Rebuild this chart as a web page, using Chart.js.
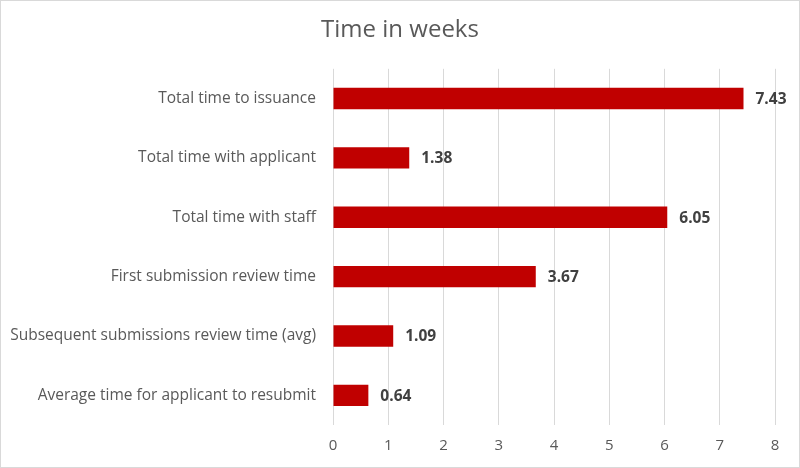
<!DOCTYPE html>
<html lang="en">
<head>
<meta charset="UTF-8">
<title>Time in weeks</title>
<script src="https://cdn.jsdelivr.net/npm/chart.js@4"></script>
<style>
    html, body { margin: 0; padding: 0; background: #fff; }
    .wrap { position: relative; width: 800px; height: 468px; }
</style>
</head>
<body>
<div class="wrap"><canvas id="timeChart" width="800" height="468"></canvas></div>
<script>
const categories = [
    'Total time to issuance',
    'Total time with applicant',
    'Total time with staff',
    'First submission review time',
    'Subsequent submissions review time (avg)',
    'Average time for applicant to resubmit'
];
const weeks = [7.43, 1.38, 6.05, 3.67, 1.09, 0.64];
const xTicks = [0, 1, 2, 3, 4, 5, 6, 7, 8];

const FONT = '"Open Sans", "Noto Sans", sans-serif';

// value labels to the right of each bar
const valueLabels = {
    id: 'valueLabels',
    afterDatasetsDraw(chart) {
        const ctx = chart.ctx;
        const meta = chart.getDatasetMeta(0);
        ctx.save();
        ctx.font = 'bold 15.5px ' + FONT;
        ctx.fillStyle = '#404040';
        ctx.textAlign = 'left';
        ctx.textBaseline = 'middle';
        meta.data.forEach((bar, i) => {
            ctx.fillText(weeks[i].toFixed(2), bar.x + 12, bar.y + 1);
        });
        ctx.restore();
    }
};

// thin frame round the whole chart
const frame = {
    id: 'frame',
    afterDraw(chart) {
        const ctx = chart.ctx;
        ctx.save();
        ctx.strokeStyle = '#d9d9d9';
        ctx.lineWidth = 1;
        ctx.strokeRect(0.5, 0.5, chart.width - 1, chart.height - 1);
        ctx.restore();
    }
};

new Chart(document.getElementById('timeChart'), {
    type: 'bar',
    data: {
        labels: categories,
        datasets: [{
            data: weeks,
            backgroundColor: '#C00000',
            borderWidth: 0,
            barPercentage: 0.36,
            categoryPercentage: 1
        }]
    },
    options: {
        indexAxis: 'y',
        responsive: false,
        animation: false,
        devicePixelRatio: 1,
        layout: { padding: 0 },
        plugins: {
            legend: { display: false },
            tooltip: { enabled: false },
            title: {
                display: true,
                text: 'Time in weeks',
                color: '#595959',
                font: { family: FONT, size: 24, weight: 'normal' },
                padding: { top: 16, bottom: 24 }
            }
        },
        scales: {
            x: {
                min: 0,
                max: 8,
                afterBuildTicks(scale) { scale.ticks = xTicks.map(v => ({ value: v })); },
                afterFit(scale) { scale.height = 43; },
                grid: { color: '#d9d9d9', drawTicks: false },
                border: { display: false },
                ticks: { color: '#595959', padding: 12, font: { family: FONT, size: 15 } }
            },
            y: {
                afterFit(scale) { scale.width = 333; },
                grid: { display: false },
                border: { display: false },
                ticks: { color: '#595959', padding: 9, font: { family: FONT, size: 15.5 } }
            },
            // empty right-hand axis, only reserves the right margin
            yRight: {
                position: 'right',
                afterFit(scale) { scale.width = 25; },
                grid: { display: false },
                border: { display: false },
                ticks: { display: false }
            }
        }
    },
    plugins: [valueLabels, frame]
});
</script>
</body>
</html>
